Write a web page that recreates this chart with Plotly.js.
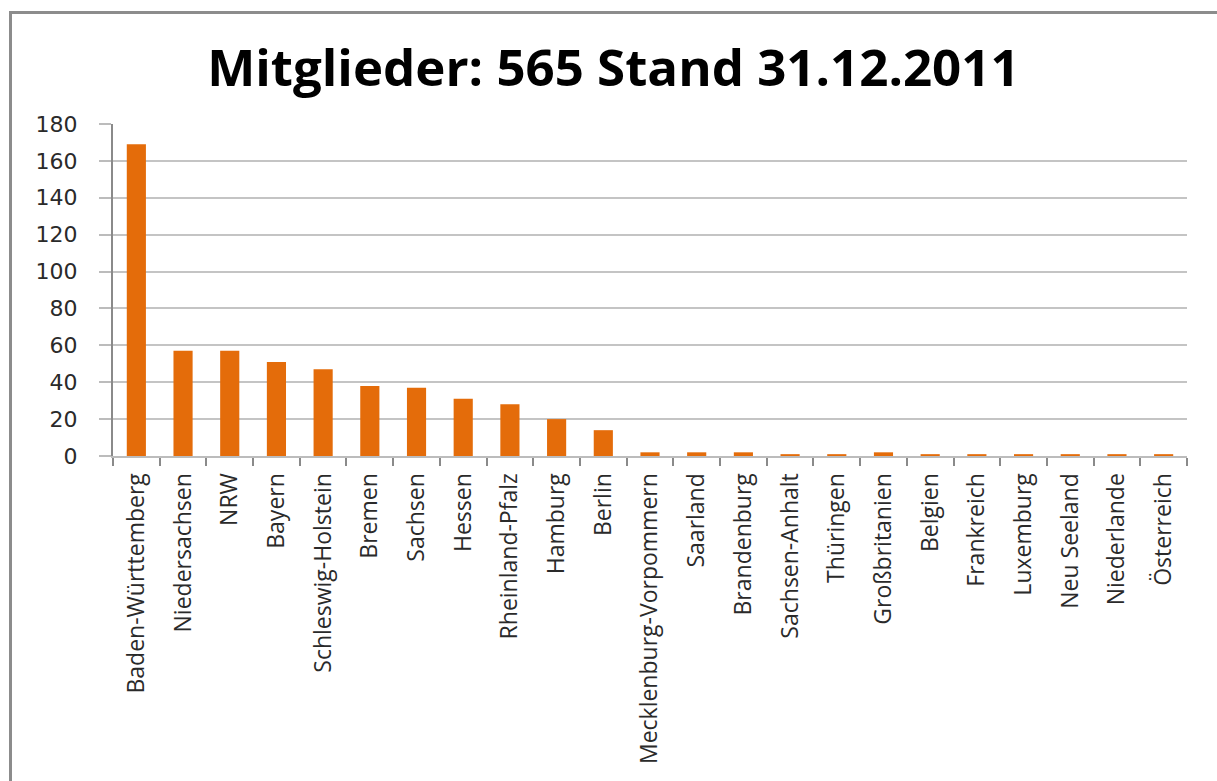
<!DOCTYPE html>
<html>
<head>
<meta charset="utf-8">
<script src="https://cdn.plot.ly/plotly-3.0.1.min.js"></script>
<style>
  html, body { margin: 0; padding: 0; background: #fff; overflow: hidden; }
  #frame { position: absolute; left: 9px; top: 11px; width: 1400px; height: 900px;
           border-left: 3px solid #8c8c8c; border-top: 3px solid #8c8c8c; }
  #chart { position: absolute; left: 0; top: 0; width: 1217px; height: 781px; }
</style>
</head>
<body>
<div id="frame"></div>
<div id="chart"></div>
<script>
const categories = [
  "Baden-Württemberg", "Niedersachsen", "NRW", "Bayern", "Schleswig-Holstein",
  "Bremen", "Sachsen", "Hessen", "Rheinland-Pfalz", "Hamburg", "Berlin",
  "Mecklenburg-Vorpommern", "Saarland", "Brandenburg", "Sachsen-Anhalt",
  "Thüringen", "Großbritanien", "Belgien", "Frankreich", "Luxemburg",
  "Neu Seeland", "Niederlande", "Österreich"
];
const members = [169, 57, 57, 51, 47, 38, 37, 31, 28, 20, 14, 2, 2, 2, 1, 1, 2, 1, 1, 1, 1, 1, 1];
const yTicks = [0, 20, 40, 60, 80, 100, 120, 140, 160, 180];
const titleText = "Mitglieder: 565 Stand 31.12.2011";

const trace = {
  type: "bar",
  x: categories,
  y: members,
  marker: { color: "#E46C0A", line: { width: 0 } },
  hoverinfo: "x+y"
};

const layout = {
  width: 1217,
  height: 781,
  paper_bgcolor: "rgba(0,0,0,0)",
  plot_bgcolor: "rgba(0,0,0,0)",
  margin: { l: 113, r: 30, t: 124, b: 325 },
  bargap: 0.59,
  showlegend: false,
  title: {
    text: "<b>" + titleText + "</b>",
    font: { family: "'Open Sans', sans-serif", size: 51, color: "#000" },
    x: 0.504, xanchor: "center",
    y: 0.913, yanchor: "middle"
  },
  xaxis: {
    type: "category",
    tickangle: -90,
    ticks: "outside",
    ticklen: 8,
    tickwidth: 2,
    tickcolor: "#8a8a8a",
    tickson: "boundaries",
    ticklabelstandoff: 6,
    showline: true,
    linecolor: "#bcbcbc",
    linewidth: 2,
    showgrid: false,
    tickfont: { family: "'Open Sans', sans-serif", size: 23, color: "#2a2a2a" },
    automargin: false
  },
  yaxis: {
    range: [0, 180],
    tickvals: yTicks,
    ticktext: yTicks.map(String),
    ticks: "outside",
    ticklen: 12,
    tickwidth: 2,
    tickcolor: "#bcbcbc",
    ticklabelstandoff: 17,
    showline: true,
    linecolor: "#8a8a8a",
    linewidth: 2,
    showgrid: true,
    gridcolor: "#c4c4c4",
    gridwidth: 2,
    zeroline: false,
    tickfont: { family: "'DejaVu Sans', sans-serif", size: 22, color: "#2a2a2a" },
    automargin: false
  }
};

Plotly.newPlot("chart", [trace], layout, { displayModeBar: false, staticPlot: true });
</script>
</body>
</html>
